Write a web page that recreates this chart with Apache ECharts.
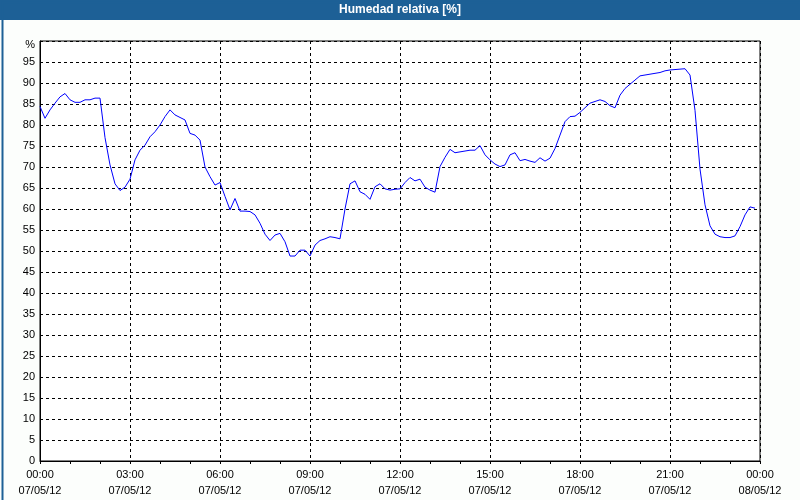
<!DOCTYPE html>
<html>
<head>
<meta charset="utf-8">
<script src="https://cdn.jsdelivr.net/npm/echarts@6/dist/echarts.min.js"></script>
<style>
html,body{margin:0;padding:0;background:#fcfefc;}
#c{width:800px;height:500px;}
</style>
</head>
<body>
<div id="c"></div>
<script>
// Data: relative humidity, one reading every 10 minutes starting 07/05/12 00:00
const chartTitle = 'Humedad relativa [%]';
const startMinute = 0;
const stepMinutes = 10;
const humidity = [
  84.4, 81.6, 83.6, 85.2, 86.7, 87.5, 86.0, 85.4, 85.4, 86.0, 86.0, 86.4,
  86.4, 77.0, 70.5, 66.0, 64.4, 65.2, 67.1, 71.7, 74.0, 75.2, 77.2, 78.4,
  80.0, 82.0, 83.6, 82.4, 81.8, 81.2, 78.0, 77.6, 76.4, 70.0, 67.7, 65.7,
  66.3, 63.0, 59.8, 62.5, 59.5, 59.5, 59.4, 58.6, 56.6, 54.0, 52.5, 53.8,
  54.2, 52.2, 48.8, 48.8, 50.2, 50.2, 48.8, 51.4, 52.5, 52.9, 53.4, 53.2,
  52.9, 60.0, 66.0, 66.7, 64.1, 63.5, 62.3, 65.3, 66.0, 64.8, 64.5, 64.7,
  64.8, 66.3, 67.5, 66.7, 67.1, 65.2, 64.5, 64.0, 70.1, 72.3, 74.2, 73.4,
  73.6, 73.8, 74.0, 74.0, 75.1, 72.9, 71.7, 70.7, 70.1, 70.5, 72.9, 73.4,
  71.5, 71.8, 71.4, 71.1, 72.2, 71.4, 72.1, 74.4, 77.6, 80.8, 82.0, 82.1,
  83.0, 84.1, 85.2, 85.6, 86.0, 85.6, 84.6, 84.1, 87.1, 88.7, 89.7, 90.7,
  91.7, 91.9, 92.1, 92.3, 92.5, 92.9, 93.1, 93.2, 93.3, 93.4, 91.9, 83.5,
  69.5, 61.0, 56.0, 54.0, 53.4, 53.2, 53.2, 53.6, 55.8, 58.6, 60.5, 60.2
];
const xTickTimes = ['00:00','03:00','06:00','09:00','12:00','15:00','18:00','21:00','00:00'];
const xTickDates = ['07/05/12','07/05/12','07/05/12','07/05/12','07/05/12','07/05/12','07/05/12','07/05/12','08/05/12'];

const seriesData = humidity.map((v, i) => [startMinute + i * stepMinutes, v]);
const FONT = 'Liberation Sans, Arial, sans-serif';

const chart = echarts.init(document.getElementById('c'), null, {renderer: 'canvas'});
chart.setOption({
  backgroundColor: '#fcfefc',
  animation: false,
  graphic: [
    {type: 'rect', left: 0, top: 0, shape: {width: 800, height: 20}, style: {fill: '#1d6096'}, silent: true, z: 0},
    {type: 'rect', left: 0, top: 0, shape: {x: 0.5, y: 0.5, width: 799, height: 499}, style: {fill: null, stroke: '#1d6096', lineWidth: 2}, silent: true, z: 0},
    {type: 'text', x: 400, y: 10, style: {text: chartTitle, fill: '#ffffff', font: 'bold 12px ' + FONT, textAlign: 'center', textVerticalAlign: 'middle'}, silent: true, z: 10}
  ],
  grid: {left: 40, right: 40, top: 41, bottom: 39, show: true, borderColor: '#000', borderWidth: 1, backgroundColor: '#ffffff'},
  xAxis: {
    type: 'value', min: 0, max: 1440, interval: 180,
    axisLine: {show: true, lineStyle: {color: '#000', width: 1}},
    axisTick: {show: true, length: 3, lineStyle: {color: '#000'}},
    minorTick: {show: true, splitNumber: 3, length: 3, lineStyle: {color: '#000'}},
    splitLine: {show: true, lineStyle: {color: '#000', type: [3, 3], width: 1}},
    axisLabel: {
      color: '#000', fontFamily: FONT, fontSize: 11, lineHeight: 16, margin: 6,
      formatter: function (v) { const i = Math.round(v / 180); return xTickTimes[i] + '\n' + xTickDates[i]; }
    }
  },
  yAxis: {
    type: 'value', min: 0, max: 100, interval: 5,
    axisLine: {show: true, lineStyle: {color: '#000', width: 1}},
    axisTick: {show: false},
    splitLine: {show: true, lineStyle: {color: '#000', type: [3, 3], width: 1}},
    axisLabel: {
      color: '#000', fontFamily: FONT, fontSize: 11, margin: 5,
      formatter: function (v) { return v === 100 ? '{p|%}' : String(v); },
      rich: {p: {fontFamily: FONT, fontSize: 11, color: '#000', padding: [8, 0, 0, 0]}}
    }
  },
  series: [{
    type: 'line', data: seriesData, showSymbol: false, symbol: 'none',
    lineStyle: {color: '#0000ff', width: 1}, z: 5
  }]
});
</script>
</body>
</html>
